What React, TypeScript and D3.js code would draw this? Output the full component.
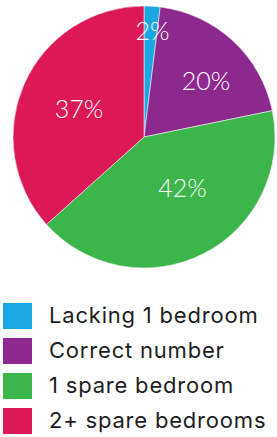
import React from "react";
import * as d3 from "d3";

const categories = ["Lacking 1 bedroom", "Correct number", "1 spare bedroom", "2+ spare bedrooms"];
const values = [2, 20, 42, 37];
const labels = ["2%", "20%", "42%", "37%"];
const colors = ["#1ca7e4", "#8d288f", "#3cb54b", "#dd1857"];

// label placement: [radius fraction, angle shift in degrees]
const labelPlacement: [number, number][] = [
  [0.81, 1],
  [0.64, 5],
  [0.49, -10],
  [0.54, -1],
];

const W = 277;
const H = 437;
const cx = 144;
const cy = 137;
const R = 131;

export default function App() {
  const pie = d3.pie<number>().sort(null).value((d) => d);
  const arcs = pie(values);
  const arcGen = d3.arc<d3.PieArcDatum<number>>().innerRadius(0).outerRadius(R);

  const legendY = d3.scaleLinear().domain([0, categories.length - 1]).range([303, 408]);

  return (
    <svg
      width={W}
      height={H}
      style={{ position: "absolute", left: 0, top: 0, background: "#fff" }}
      fontFamily="Lato, 'Noto Sans', sans-serif"
    >
      <g transform={`translate(${cx},${cy})`}>
        {arcs.map((a, i) => (
          <path key={i} d={arcGen(a) || ""} fill={colors[i]} stroke="#f4eef4" strokeWidth={0.6} />
        ))}
        {arcs.map((a, i) => {
          const [rf, shift] = labelPlacement[i];
          const mid = (a.startAngle + a.endAngle) / 2 + (shift * Math.PI) / 180;
          const r = rf * R;
          const x = Math.sin(mid) * r;
          const y = -Math.cos(mid) * r;
          return (
            <text
              key={"l" + i}
              x={x}
              y={y}
              dy="0.36em"
              textAnchor="middle"
              fill="#fff"
              fontSize={25}
              fontWeight={300}
            >
              {labels[i]}
            </text>
          );
        })}
      </g>
      <g fontFamily="Inter, Lato, sans-serif">
        {categories.map((c, i) => {
          const y0 = legendY(i);
          return (
            <g key={c}>
              <rect x={3} y={y0} width={29} height={26} fill={colors[i]} />
              <text x={49} y={y0 + 20} fontSize={22} letterSpacing={0.8} fill="#1e1e1e">
                {c}
              </text>
            </g>
          );
        })}
      </g>
    </svg>
  );
}
